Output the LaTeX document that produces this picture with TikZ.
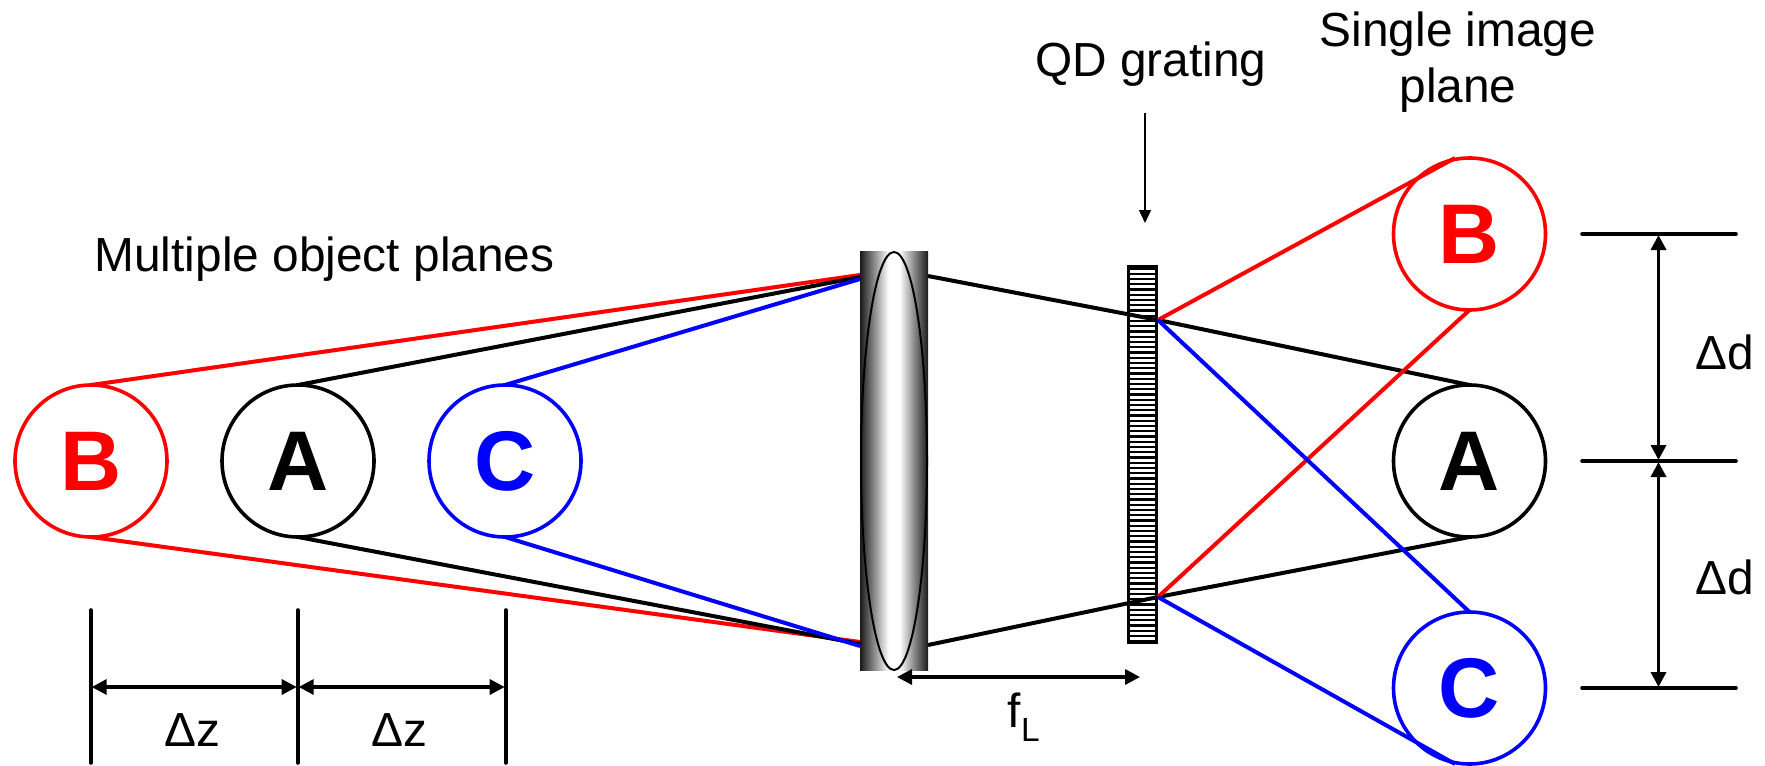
\documentclass[tikz,border=0pt]{standalone}
\usepackage{fontspec}
\setmainfont{Liberation Sans}
\usetikzlibrary{positioning, arrows.meta, shapes.geometric}
\pgfdeclarehorizontalshading{lensshade}{100bp}{color(0bp)=(black!90); color(25bp)=(black!90); color(46bp)=(white); color(54bp)=(white); color(75bp)=(black!90); color(100bp)=(black!90)}

\begin{document}
\begin{tikzpicture}[
  x=1bp, y=-1bp,
  node distance=75bp and 55bp,
  plane/.style={draw, circle, line width=3.6bp, minimum size=152bp, inner sep=0pt, outer sep=0pt, font=\fontsize{85}{85}\selectfont\bfseries},
  ray/.style={line width=4bp},
  dim/.style={{Triangle[length=15bp,width=15bp]}-{Triangle[length=15bp,width=15bp]}, line width=3.4bp, shorten <=1bp, shorten >=1bp},
  tick/.style={line width=3.6bp, line cap=round},
  txt/.style={font=\fontsize{48}{56}\selectfont, inner sep=0pt, align=center}
]
  \useasboundingbox (0,0) rectangle (1765,766);

  % Nodes
  \node[plane, red] (objB) at (91,461) {B};
  \node[plane] (objA) [right=of objB] {A};
  \node[plane, blue] (objC) [right=of objA] {C};
  \node[plane, red] (imgB) at (1469.5,234) {B};
  \node[plane] (imgA) [below=of imgB] {A};
  \node[plane, blue] (imgC) [below=of imgA] {C};

  \node[shade, shading=lensshade, minimum width=68bp, minimum height=418bp, inner sep=0pt, outer sep=0pt] (lens) at (894,461) {};
  \node[draw, ellipse, line width=2bp, minimum width=66bp, minimum height=418bp, inner sep=0pt, outer sep=0pt] (lensrim) at (894,461) {};
  \node[draw, line width=3.2bp, minimum width=28bp, minimum height=376bp, inner sep=0pt, outer sep=0pt] (grating) at (1142.5,454.5) {};
  \foreach \y in {0,1,...,71}
    \draw[line width=2.4bp] ([yshift=-\y*5.25bp-2bp]grating.north west) -- ([yshift=-\y*5.25bp-2bp]grating.north east);

  \coordinate (lensTL) at (860,277);
  \coordinate (lensBL) at (860,644);
  \coordinate (lensTR) at (928,276);
  \coordinate (lensBR) at (928,645);
  \coordinate (gratT) at (1158,320);
  \coordinate (gratB) at (1158,597);
  \coordinate (imgBtop) at (1455,158);
  \coordinate (imgCbot) at (1455,764);
  \coordinate (qdtop) at (1145,113);
  \coordinate (qdbot) at (1145,223);

  % Rays
  \draw[ray, red] (objB.north) -- ([yshift=2bp]lensTL);
  \draw[ray, red] (objB.south) -- ([yshift=2bp]lensBL);
  \draw[ray] (objA.north) -- (lensTL);
  \draw[ray] (objA.south) -- (lensBL);
  \draw[ray, blue] (objC.north) -- ([yshift=-2bp]lensTL);
  \draw[ray, blue] (objC.south) -- ([yshift=-2bp]lensBL);
  \draw[ray] (lensTR) -- (gratT) -- (imgA.north);
  \draw[ray] (lensBR) -- (gratB) -- (imgA.south);
  \draw[ray, red] (gratT) -- (imgBtop);
  \draw[ray, red] (gratB) -- (imgB.south);
  \draw[ray, blue] (gratT) -- (imgC.north);
  \draw[ray, blue] (gratB) -- (imgCbot);

  % Labels
  \node[txt] (objlabel) at (324.5,259) {Multiple object planes};
  \node[txt] (qdlabel) at (1151,64) {QD grating};
  \node[txt] (imglabel) at (1458,62) {Single image\\plane};
  \draw[-{Triangle[length=13bp,width=12bp]}, line width=1.5bp] (qdtop) -- (qdbot);

  % Dimensions
  \coordinate (zA) at (90.7,610);
  \coordinate (zB) at (297.7,610);
  \coordinate (zC) at (505.7,610);
  \coordinate (zAe) at (90.7,763);
  \coordinate (zBe) at (297.7,763);
  \coordinate (zCe) at (505.7,763);
  \coordinate (zmid) at (0,687);
  \draw[tick] (zA) -- (zAe);
  \draw[tick] (zB) -- (zBe);
  \draw[tick] (zC) -- (zCe);
  \draw[dim] (zA |- zmid) -- (zB |- zmid);
  \draw[dim] (zB |- zmid) -- (zC |- zmid);
  \node[txt] (dz1) at (192,730) {Δz};
  \node[txt] (dz2) at (399,730) {Δz};

  \coordinate (dT) at (1582,234);
  \coordinate (dM) at (1582,461);
  \coordinate (dB) at (1582,688);
  \coordinate (dmid) at (1658.5,0);
  \draw[tick] (dT) -- +(154,0);
  \draw[tick] (dM) -- +(154,0);
  \draw[tick] (dB) -- +(154,0);
  \draw[dim] (dmid |- dT) -- (dmid |- dM);
  \draw[dim] (dmid |- dM) -- (dmid |- dB);
  \node[txt] (dd1) at (1725,352) {Δd};
  \node[txt] (dd2) at (1725,577) {Δd};

  \coordinate (flA) at (896,677);
  \coordinate (flB) at (1141,677);
  \draw[dim] (flA) -- (flB);
  \node[txt] (fl) at (1024,717) {f\textsubscript{L}};
\end{tikzpicture}
\end{document}
